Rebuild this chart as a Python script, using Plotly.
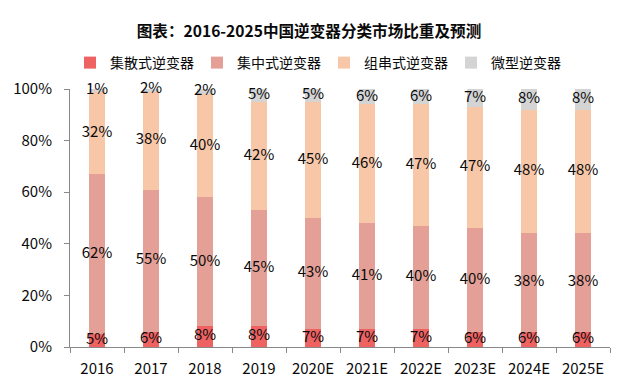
import plotly.graph_objects as go
import numpy as np

years = ["2016", "2017", "2018", "2019", "2020E", "2021E", "2022E", "2023E", "2024E", "2025E"]
series_names = ["集散式逆变器", "集中式逆变器", "组串式逆变器", "微型逆变器"]
distributed = [5, 6, 8, 8, 7, 7, 7, 6, 6, 6]
central = [62, 55, 50, 45, 43, 41, 40, 40, 38, 38]
string = [32, 38, 40, 42, 45, 46, 47, 47, 48, 48]
micro = [1, 2, 2, 5, 5, 6, 6, 7, 8, 8]
colors = ["#EE6262", "#E4A096", "#F8C7A8", "#D4D4D4"]

FONT = "Noto Sans CJK SC, Microsoft YaHei, sans-serif"
fig = go.Figure()
all_series = [distributed, central, string, micro]
for name, vals, col in zip(series_names, all_series, colors):
    fig.add_trace(go.Bar(
        x=years, y=[v / 100 for v in vals], name=name,
        marker=dict(color=col, line=dict(width=0)), width=0.28,
    ))

# labels at segment centres
base = np.zeros(len(years))
for vals in all_series:
    v = np.array(vals, dtype=float) / 100
    mid = base + v / 2
    fig.add_trace(go.Scatter(
        x=years, y=mid, mode="text", text=[f"{x}%" for x in vals],
        textfont=dict(family=FONT, size=15, color="#0a0a0a"),
        showlegend=False, hoverinfo="skip", cliponaxis=False,
    ))
    base = base + v

fig.update_layout(
    barmode="stack",
    width=618, height=382,
    margin=dict(l=70, r=8, t=89, b=35, autoexpand=False),
    paper_bgcolor="white", plot_bgcolor="white",
    font=dict(family=FONT, size=15, color="#0a0a0a"),
    title=dict(text="<b>图表：2016-2025中国逆变器分类市场比重及预测</b>",
               x=0.5, xanchor="center", xref="container",
               y=1 - 32 / 382, yanchor="middle", yref="container",
               font=dict(size=15.6, color="#0a0a0a")),
    legend=dict(orientation="h", x=70 / 618, xanchor="left", xref="container",
                y=1 - 63 / 382, yanchor="middle", yref="container",
                font=dict(size=14), itemwidth=30, traceorder="normal",
                entrywidth=82, entrywidthmode="pixels", borderwidth=0),
    showlegend=True,
)
fig.update_yaxes(range=[0, 1], tickvals=[0, 0.2, 0.4, 0.6, 0.8, 1.0],
                 ticktext=["0%", "20%", "40%", "60%", "80%", "100%"],
                 showgrid=False, showline=True, linecolor="#888888", linewidth=1,
                 ticks="outside", ticklen=5, tickcolor="#888888", zeroline=False,
                 ticklabelstandoff=9,
                 automargin=False, tickfont=dict(size=15))
fig.update_xaxes(showline=True, linecolor="#888888", linewidth=1, ticks="outside",
                 tickson="boundaries", ticklen=5, tickcolor="#888888",
                 ticklabelstandoff=8,
                 automargin=False, tickfont=dict(size=15))

fig.write_html("out.html", config={"displayModeBar": False},
               post_script="document.body.style.margin='0';")
